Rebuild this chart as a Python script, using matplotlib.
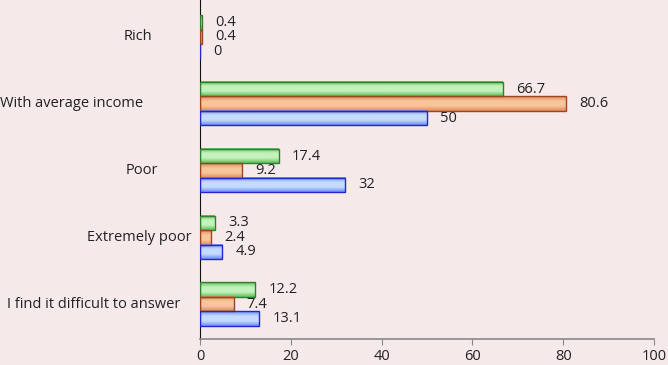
import numpy as np
import matplotlib.pyplot as plt
import matplotlib.transforms as mtrans
from matplotlib.colors import LinearSegmentedColormap

plt.rcParams['font.family'] = ['Open Sans', 'DejaVu Sans']

categories = ['Rich', 'With average income', 'Poor', 'Extremely poor',
              'I find it difficult to answer']
green_vals = [0.4, 66.7, 17.4, 3.3, 12.2]
orange_vals = [0.4, 80.6, 9.2, 2.4, 7.4]
blue_vals = [0, 50, 32, 4.9, 13.1]
x_ticks = [0, 20, 40, 60, 80, 100]

bg = '#f6e9e9'
fs = 10.5
fig = plt.figure(figsize=(6.68, 3.65), dpi=100, facecolor=bg)
ax = fig.add_axes([200 / 668, 26 / 365, 454 / 668, 339 / 365])
ax.set_facecolor(bg)

y = np.arange(len(categories))
h = 0.217
series = [
    (green_vals, -h, '#2f7f2f', '#c4f2bc', '#5fbf5a'),
    (orange_vals, 0, '#9c4520', '#f8c69c', '#e08a55'),
    (blue_vals, h, '#2525d8', '#c6dcff', '#6e8ff0'),
]

# value labels sit ~13 px right of the bar end
gap = mtrans.ScaledTranslation(0.13, 0, fig.dpi_scale_trans)

# gradient fill for each bar (dark edge -> light centre -> dark edge)
for vals, off, edge, light, mid in series:
    cmap = LinearSegmentedColormap.from_list('g', [mid, light, light, mid])
    grad = np.linspace(0, 1, 50).reshape(-1, 1)
    for yi, v in zip(y, vals):
        if v <= 0:
            continue
        y0 = yi + off - h / 2
        ax.imshow(grad, extent=[0, v, y0 + h, y0], aspect='auto', cmap=cmap,
                  zorder=2, interpolation='bicubic')
    ax.barh(y + off, vals, height=h, facecolor='none', edgecolor=edge,
            linewidth=1.0, zorder=3)
    for yi, v in zip(y, vals):
        ax.text(v, yi + off, f'{v:g}', va='center', ha='left',
                transform=ax.transData + gap, fontsize=fs, color='#222222')

ax.set_xlim(0, 100)
ax.set_ylim(4.524, -0.554)
ax.set_xticks(x_ticks)
ax.set_xticklabels([str(t) for t in x_ticks], fontsize=fs, color='#222222')
ax.tick_params(axis='x', direction='out', length=4, color='#888888', pad=3.5)
ax.set_yticks([])
for s in ['top', 'right']:
    ax.spines[s].set_visible(False)
ax.spines['left'].set_color('#111111')
ax.spines['bottom'].set_color('#888888')
ax.spines['bottom'].set_linewidth(1.2)

# category labels placed like the original
label_x = [138, 72, 142, 139, 94]
blend = mtrans.blended_transform_factory(fig.transFigure, ax.transData)
for lx, yi, name in zip(label_x, y, categories):
    ax.text(lx / 668, yi, name, transform=blend, ha='center', va='center',
            fontsize=fs, color='#222222')

fig.savefig('out.png', dpi=100, facecolor=bg)
